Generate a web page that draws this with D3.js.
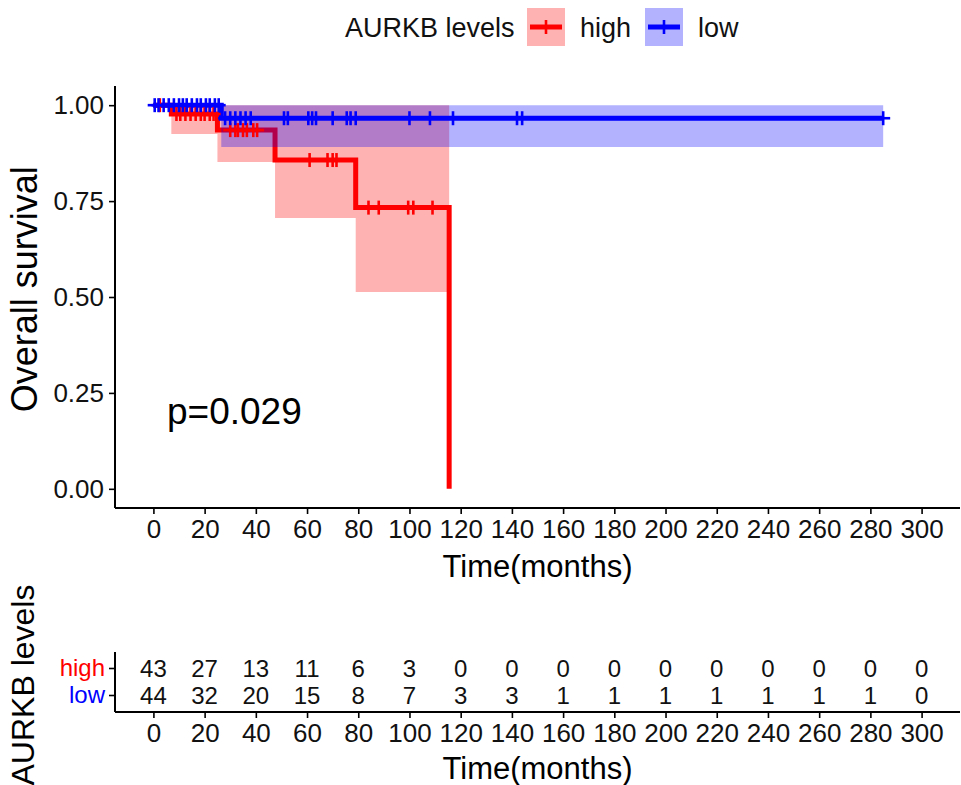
<!DOCTYPE html>
<html>
<head>
<meta charset="utf-8">
<script src="https://cdn.jsdelivr.net/npm/d3@7"></script>
<style>
  html, body { margin: 0; padding: 0; background: #fff; }
  svg text { font-family: "Liberation Sans", Arial, sans-serif; }
</style>
</head>
<body>
<svg id="chart" width="961" height="785"></svg>
<script>
// ---------------- data ----------------
const groups = ["high", "low"];
const groupColors = ["#FF0000", "#0000FF"];
const legendTitle = "AURKB levels";

// Kaplan-Meier steps (time in months, survival)
const highTimes = [0, 7, 25, 47.5, 79, 115.5];
const highSurv  = [1, 0.977, 0.935, 0.857, 0.733, 0];
// confidence band (per step, starting at first event)
const highBandTimes = [7, 25, 47.5, 79, 115.5];
const highLower = [0.925, 0.852, 0.706, 0.513, 0.513];
const highUpper = [1, 1, 1, 1, 1];
const highCensor = [2.5, 9, 10.5, 12.5, 14.5, 16.5, 18.5, 20, 22, 23.5,
                    30, 32, 33, 35, 36.5, 39, 40.5, 61, 68, 70, 71.5,
                    84, 88, 99.5, 101.5, 109];

const lowTimes = [0, 26.5, 285];
const lowSurv  = [1, 0.966, 0.966];
const lowBandTimes = [26.5, 285];
const lowLower = [0.891, 0.891];
const lowUpper = [1, 1];
const lowCensor = [0.5, 2, 4, 6, 8, 10, 11.5, 13, 15, 17, 18.5, 20.5, 22, 24, 25.5,
                   28, 30, 32, 34, 36, 38, 51, 52.5, 60.5, 62, 63.5, 70, 75.5, 77, 79,
                   100, 108, 117, 142, 144, 285];

const riskTimes = [0, 20, 40, 60, 80, 100, 120, 140, 160, 180, 200, 220, 240, 260, 280, 300];
const highRisk = [43, 27, 13, 11, 6, 3, 0, 0, 0, 0, 0, 0, 0, 0, 0, 0];
const lowRisk  = [44, 32, 20, 15, 8, 7, 3, 3, 1, 1, 1, 1, 1, 1, 1, 0];

const yTicks = [0, 0.25, 0.5, 0.75, 1];
const pValueText = "p=0.029";
const xTitle = "Time(months)";
const yTitle = "Overall survival";

// ---------------- layout ----------------
const svg = d3.select("#chart");
const FONT = "'Liberation Sans', Arial, sans-serif";

const x = d3.scaleLinear().domain([-15, 315]).range([115, 960]);
const y = d3.scaleLinear().domain([-0.05, 1.05]).range([508, 86]);

function survAt(times, surv, t) {
  let s = surv[0];
  for (let i = 0; i < times.length; i++) { if (times[i] <= t) s = surv[i]; }
  return s;
}

const series = [
  { name: groups[0], color: groupColors[0], times: highTimes, surv: highSurv,
    band: highBandTimes.map((t, i) => ({ t, lo: highLower[i], hi: highUpper[i] })),
    censor: highCensor },
  { name: groups[1], color: groupColors[1], times: lowTimes, surv: lowSurv,
    band: lowBandTimes.map((t, i) => ({ t, lo: lowLower[i], hi: lowUpper[i] })),
    censor: lowCensor }
];

const lineGen = d3.line().x(d => x(d[0])).y(d => y(d[1])).curve(d3.curveStepAfter);
const areaGen = d3.area().x(d => x(d.t)).y0(d => y(d.lo)).y1(d => y(d.hi)).curve(d3.curveStepAfter);

const plot = svg.append("g");

// ribbons + lines, per group order
series.forEach(s => {
  plot.append("path").attr("d", areaGen(s.band))
    .attr("fill", s.color).attr("fill-opacity", 0.3).attr("stroke", "none");
  plot.append("path").attr("d", lineGen(s.times.map((t, i) => [t, s.surv[i]])))
    .attr("fill", "none").attr("stroke", s.color).attr("stroke-width", 5)
    .attr("stroke-linejoin", "miter").attr("stroke-linecap", "butt");
});

// censor marks
series.forEach(s => {
  const g = plot.append("g");
  s.censor.forEach(t => {
    const cx = x(t), cy = y(survAt(s.times, s.surv, t));
    g.append("line").attr("x1", cx).attr("x2", cx).attr("y1", cy - 7).attr("y2", cy + 7)
      .attr("stroke", s.color).attr("stroke-width", 2.6);
    g.append("line").attr("x1", cx - 7).attr("x2", cx + 7).attr("y1", cy).attr("y2", cy)
      .attr("stroke", s.color).attr("stroke-width", 2.6);
  });
});

// main axes
const xAxis = d3.axisBottom(x).tickValues(riskTimes).tickSize(6).tickPadding(4).tickSizeOuter(0);
const gx = svg.append("g").attr("transform", "translate(0,508)").call(xAxis);
gx.select(".domain").attr("stroke", "#000").attr("stroke-width", 2).attr("d", "M115,0H960");
gx.selectAll(".tick line").attr("stroke", "#000").attr("stroke-width", 1.6);
gx.selectAll(".tick text").attr("font-size", 26).attr("font-family", FONT).attr("fill", "#111").attr("dy", "0.75em");

const yAxis = d3.axisLeft(y).tickValues(yTicks).tickFormat(d3.format(".2f")).tickSize(6).tickPadding(5).tickSizeOuter(0);
const gy = svg.append("g").attr("transform", "translate(115,0)").call(yAxis);
gy.select(".domain").attr("stroke", "#000").attr("stroke-width", 2).attr("d", "M0,86V508");
gy.selectAll(".tick line").attr("stroke", "#000").attr("stroke-width", 1.6);
gy.selectAll(".tick text").attr("font-size", 26).attr("font-family", FONT).attr("fill", "#111");

svg.append("text").attr("x", x(150)).attr("y", 577).attr("text-anchor", "middle")
  .attr("font-size", 31).attr("fill", "#000").text(xTitle);
svg.append("text").attr("transform", `translate(37,${y(0.52)}) rotate(-90)`).attr("text-anchor", "middle")
  .attr("font-size", 36).attr("fill", "#000").text(yTitle);

svg.append("text").attr("x", 167).attr("y", 424).attr("font-size", 37).attr("fill", "#000").text(pValueText);

// legend
const legend = svg.append("g");
legend.append("text").attr("x", 345).attr("y", 37).attr("font-size", 27).attr("fill", "#111").text(legendTitle);
const legendX = [527, 645];
series.forEach((s, i) => {
  const lx = legendX[i];
  legend.append("rect").attr("x", lx).attr("y", 8).attr("width", 38).attr("height", 38)
    .attr("fill", s.color).attr("fill-opacity", 0.3);
  legend.append("line").attr("x1", lx + 3).attr("x2", lx + 35).attr("y1", 27).attr("y2", 27)
    .attr("stroke", s.color).attr("stroke-width", 5);
  legend.append("line").attr("x1", lx + 19).attr("x2", lx + 19).attr("y1", 20).attr("y2", 34)
    .attr("stroke", s.color).attr("stroke-width", 2.6);
  legend.append("text").attr("x", lx + 53).attr("y", 37).attr("font-size", 27).attr("fill", "#111").text(s.name);
});

// ---------------- risk table ----------------
const ry = d3.scaleBand().domain(groups).range([655, 709]);
const riskData = [highRisk, lowRisk];
const rt = svg.append("g");
groups.forEach((gname, gi) => {
  riskTimes.forEach((t, i) => {
    rt.append("text").attr("x", x(t)).attr("y", ry(gname) + ry.bandwidth() / 2)
      .attr("dy", "0.36em").attr("text-anchor", "middle").attr("font-size", 24).attr("fill", "#111")
      .text(riskData[gi][i]);
  });
});
const rxAxis = d3.axisBottom(x).tickValues(riskTimes).tickSize(6).tickPadding(4).tickSizeOuter(0);
const grx = svg.append("g").attr("transform", "translate(0,712)").call(rxAxis);
grx.select(".domain").attr("stroke", "#000").attr("stroke-width", 2).attr("d", "M115,0H960");
grx.selectAll(".tick line").attr("stroke", "#000").attr("stroke-width", 1.6);
grx.selectAll(".tick text").attr("font-size", 26).attr("font-family", FONT).attr("fill", "#111").attr("dy", "0.75em");

const ryAxis = d3.axisLeft(ry).tickSize(6).tickPadding(4).tickSizeOuter(0);
const gry = svg.append("g").attr("transform", "translate(115,0)").call(ryAxis);
gry.select(".domain").attr("stroke", "#000").attr("stroke-width", 2).attr("d", "M0,652V712");
gry.selectAll(".tick line").attr("stroke", "#000").attr("stroke-width", 1.6);
gry.selectAll(".tick text").attr("font-size", 24).attr("font-family", FONT)
  .attr("fill", (d, i) => groupColors[i]);

svg.append("text").attr("x", x(150)).attr("y", 779).attr("text-anchor", "middle")
  .attr("font-size", 31).attr("fill", "#000").text(xTitle);
svg.append("text").attr("transform", `translate(34,685) rotate(-90)`).attr("text-anchor", "middle")
  .attr("font-size", 32).attr("fill", "#000").text(legendTitle);
</script>
</body>
</html>
